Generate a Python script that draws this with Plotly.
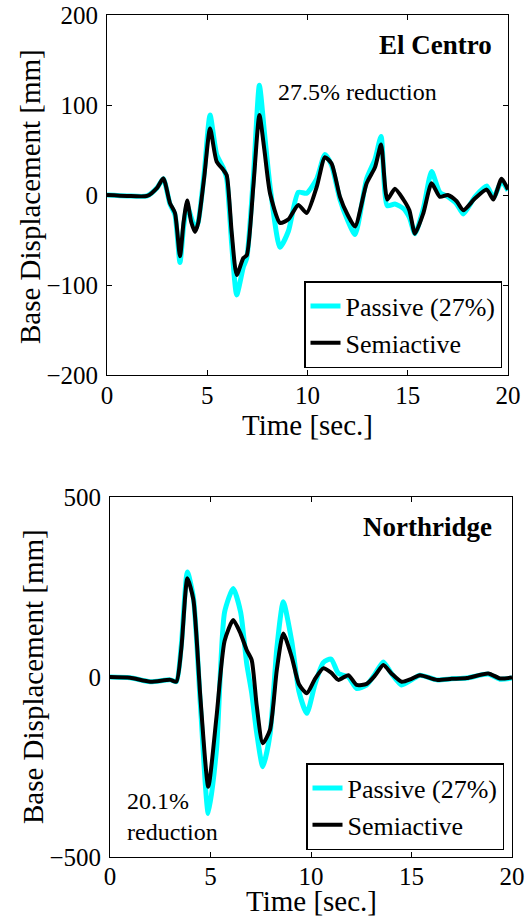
import plotly.graph_objects as go

# ---------------- data ----------------
t_ec = [0, 1.0, 2.0, 2.5, 2.81, 3.14, 3.39, 3.64, 3.82, 4.0, 4.2, 4.39, 4.55, 4.85,
        5.14, 5.47, 5.8, 5.97, 6.22, 6.47, 6.8, 6.97, 7.3, 7.6, 7.85, 8.13, 8.63,
        9.05, 9.54, 9.96, 10.46, 10.87, 11.2, 11.62, 12.0, 12.37, 12.95, 13.37,
        13.67, 13.98, 14.36, 14.78, 15.08, 15.36, 15.78, 16.19, 16.6, 17.0, 17.44,
        17.77, 18.35, 18.94, 19.27, 19.68, 20.0]
semi_ec = [0, -1, -1, 8, 18.5, -9, -20, -68, -30, -6, -30, -41, -31, 20,
           74, 37, 28, 22, -42, -89, -70, -67, 10, 89, 50, 2, -31,
           -27, -11, -20, 9, 42, 35, -2, -22, -35, 13, 31,
           56, -5, 7, -5, -17, -43, -20, 13, -2, 0, -7,
           -17, -4, 6, -5, 18, 6]
pass_ec = [0, -1, -1, 8, 18, -10, -22, -75, -35, -12, -25, -38, -30, 25,
           89, 45, 30, 18, -55, -111, -80, -70, 20, 122, 70, 10, -58,
           -40, 3, 2, 18, 45, 33, -5, -28, -44, 18, 40,
           65, -12, -10, -15, -25, -43, -15, 26, 3, -2, -10,
           -21, -2, 10, -3, 15, 5]

t_nr = [0, 1.0, 2.0, 3.0, 3.3, 3.55, 3.85, 4.15, 4.5, 4.89, 5.3, 5.7, 6.13, 6.5,
        6.8, 7.05, 7.3, 7.6, 7.96, 8.3, 8.62, 9.04, 9.4, 9.79, 10.2, 10.61, 11.0,
        11.36, 11.86, 12.27, 12.77, 13.2, 13.6, 14.0, 14.51, 15.0, 15.42, 16.25,
        17.0, 17.75, 18.82, 19.4, 20.0]
semi_nr = [0, -2, -13, -8, -13, 80, 274, 214, -60, -305, -110, 100, 158, 120,
           75, 47, -80, -184, -147, 20, 121, 56, -20, -45, -5, 24, 12,
           -8, 5, -22, -19, 5, 33, 10, -13, -5, 5, -8,
           -5, -3, 10, -4, -1]
pass_nr = [0, -2, -13, -8, -13, 90, 292, 220, -80, -379, -200, 180, 246, 180,
           38, -45, -156, -249, -160, 80, 209, 100, -40, -101, -20, 40, 50,
           10, 0, -32, -22, 10, 42, 10, -22, -8, 5, -8,
           -5, -3, 8, -6, -3]

x_ticks = [0, 5, 10, 15, 20]
y_ticks_ec = [-200, -100, 0, 100, 200]
y_ticks_nr = [-500, 0, 500]

series_names = ["Passive (27%)", "Semiactive"]
colors = ["#00FFFF", "#000000"]

FONT = "Liberation Serif, Times New Roman, serif"
W, H = 529, 924

fig = go.Figure()
for name, col, y, lw in [(series_names[0], colors[0], pass_ec, 5),
                         (series_names[1], colors[1], semi_ec, 4)]:
    fig.add_trace(go.Scatter(x=t_ec, y=y, mode="lines", name=name,
                             line=dict(color=col, width=lw, shape="spline", smoothing=0.6),
                             xaxis="x", yaxis="y", legend="legend"))
for name, col, y, lw in [(series_names[0], colors[0], pass_nr, 5),
                         (series_names[1], colors[1], semi_nr, 4)]:
    fig.add_trace(go.Scatter(x=t_nr, y=y, mode="lines", name=name,
                             line=dict(color=col, width=lw, shape="spline", smoothing=0.6),
                             xaxis="x2", yaxis="y2", legend="legend2"))

axis_common = dict(showline=True, linecolor="black", linewidth=1, mirror="ticks",
                   ticks="inside", ticklen=5, tickwidth=1, tickcolor="black",
                   showgrid=False, zeroline=False, automargin=False,
                   tickfont=dict(family=FONT, size=25, color="black"))
title_font = dict(family=FONT, size=29, color="black")

fig.update_layout(
    width=W, height=H, margin=dict(l=0, r=0, t=0, b=0),
    paper_bgcolor="white", plot_bgcolor="white",
    font=dict(family=FONT, color="black"),
    xaxis=dict(axis_common, domain=[107 / W, 508 / W], range=[0, 20], tickvals=x_ticks,
               anchor="y", ticklabelstandoff=-2),
    yaxis=dict(axis_common, domain=[1 - 375 / H, 1 - 15 / H], range=[-200, 200],
               tickvals=y_ticks_ec, anchor="x", ticklabelstandoff=3),
    xaxis2=dict(axis_common, domain=[110 / W, 512 / W], range=[0, 20], tickvals=x_ticks,
                anchor="y2", ticklabelstandoff=-3),
    yaxis2=dict(axis_common, domain=[1 - 857 / H, 1 - 497 / H], range=[-500, 500],
                tickvals=y_ticks_nr, anchor="x2", ticklabelstandoff=3),
    legend=dict(x=502 / W, y=1 - 368 / H, xanchor="right", yanchor="bottom",
                bgcolor="white", bordercolor="black", borderwidth=1.5,
                font=dict(family=FONT, size=26, color="black"), tracegroupgap=0),
    legend2=dict(x=504 / W, y=1 - 850 / H, xanchor="right", yanchor="bottom",
                 bgcolor="white", bordercolor="black", borderwidth=1.5,
                 font=dict(family=FONT, size=26, color="black"), tracegroupgap=0),
    showlegend=True,
)

# axis titles (placed in paper pixels)
def paper(px, py):
    return px / W, 1 - py / H

for text, (px, py), ang, kw in [("Time [sec.]", (307.5, 425), 0, dict(height=30)),
                                ("Time [sec.]", (311, 901), 0, dict(height=30)),
                                ("Base Displacement [mm]", (30, 197), -90, {}),
                                ("Base Displacement [mm]", (33, 677), -90, {})]:
    xx, yy = paper(px, py)
    fig.add_annotation(x=xx, y=yy, xref="paper", yref="paper", text=text,
                       showarrow=False, xanchor="center", yanchor="middle",
                       textangle=ang, font=title_font, **kw)

ann_font = dict(family=FONT, size=24, color="black")
fig.add_annotation(x=19.3, y=167, xref="x", yref="y", text="<b>El Centro</b>",
                   showarrow=False, xanchor="right", yanchor="middle",
                   font=dict(family=FONT, size=27, color="black"))
fig.add_annotation(x=8.41, y=114, xref="x", yref="y", text="27.5% reduction",
                   showarrow=False, xanchor="left", yanchor="middle", font=ann_font)
fig.add_annotation(x=19.12, y=417, xref="x2", yref="y2", text="<b>Northridge</b>",
                   showarrow=False, xanchor="right", yanchor="middle",
                   font=dict(family=FONT, size=27, color="black"))
fig.add_annotation(x=0.75, y=-387, xref="x2", yref="y2", text="20.1%<br>reduction",
                   showarrow=False, xanchor="left", yanchor="middle", align="left",
                   font=ann_font)

fig.write_html("out.html", config={"displayModeBar": False},
               post_script="document.body.style.margin='0';")
